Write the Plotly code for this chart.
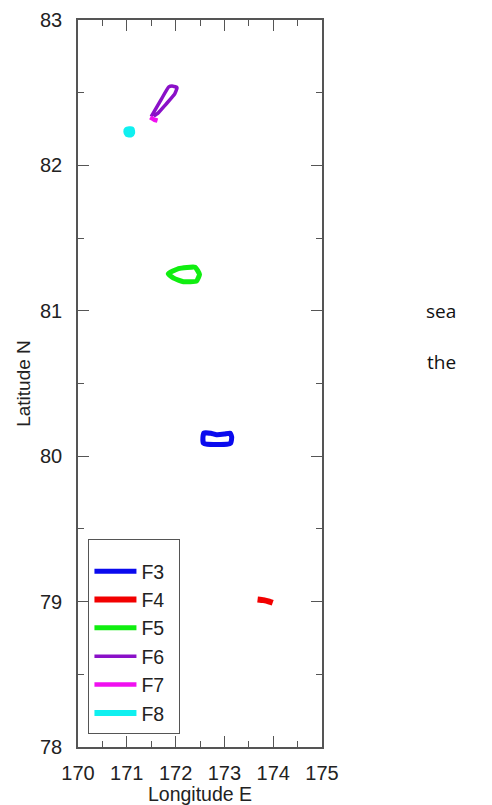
import plotly.graph_objects as go

# Survey track outlines (longitude E, latitude N)
f3_lon = [172.58, 172.72, 172.84, 173.00, 173.12, 173.15, 173.13, 173.05, 172.65, 172.57, 172.56, 172.58]
f3_lat = [80.160, 80.158, 80.148, 80.152, 80.158, 80.130, 80.090, 80.082, 80.082, 80.090, 80.130, 80.160]

f4_lon = [173.68, 173.80, 173.92, 173.99]
f4_lat = [79.015, 79.010, 79.000, 78.992]

f5_lon = [171.85, 172.06, 172.40, 172.49, 172.43, 172.16, 171.96, 171.85]
f5_lat = [81.255, 81.290, 81.300, 81.250, 81.205, 81.200, 81.225, 81.255]

f6_lon = [171.50, 171.70, 171.86, 171.95, 172.03, 171.98, 171.80, 171.64, 171.55]
f6_lat = [82.335, 82.450, 82.540, 82.545, 82.535, 82.490, 82.420, 82.360, 82.340]

f7_lon = [171.48, 171.56, 171.63]
f7_lat = [82.330, 82.315, 82.308]

f8_lon = [171.00, 171.10, 171.11, 171.08, 171.01, 170.99, 171.00]
f8_lat = [82.245, 82.248, 82.225, 82.212, 82.215, 82.232, 82.245]

tracks = [
    ("F3", f3_lon, f3_lat, "#0a0aee", 5),
    ("F4", f4_lon, f4_lat, "#f20000", 6),
    ("F5", f5_lon, f5_lat, "#10ee10", 5),
    ("F6", f6_lon, f6_lat, "#8a10c8", 3.5),
    ("F7", f7_lon, f7_lat, "#f010f0", 4.5),
    ("F8", f8_lon, f8_lat, "#10f0f0", 6),
]

x_ticks = [170, 171, 172, 173, 174, 175]
y_ticks = [78, 79, 80, 81, 82, 83]

fig = go.Figure()
for name, lon, lat, color, width in tracks:
    # trailing no-break/thin spaces give the legend box its right-hand padding
    fig.add_trace(go.Scatter(x=lon, y=lat, mode="lines", name=name + "\u00a0\u2009",
                             line=dict(color=color, width=width, shape="spline", smoothing=0.4)))

axis_common = dict(
    showgrid=False, zeroline=False, showline=True, linecolor="#555555", linewidth=1.5,
    mirror="allticks", ticks="inside", ticklen=11, tickwidth=1.3, tickcolor="#555555",
    tickfont=dict(family="Liberation Sans, Arial", size=20, color="#222222"),
    minor=dict(ticks="inside", ticklen=6, tickwidth=1.3, tickcolor="#555555", dtick=0.5),
)

fig.update_xaxes(range=[170, 175], tickvals=x_ticks, ticklabelstandoff=7,
                 title=dict(text="Longitude E", standoff=1,
                            font=dict(family="Liberation Sans, Arial", size=19.5, color="#222222")),
                 **axis_common)
fig.update_yaxes(range=[78, 83], tickvals=y_ticks, ticklabelstandoff=10,
                 title=dict(text="Latitude N", standoff=4,
                            font=dict(family="Liberation Sans, Arial", size=19, color="#222222")),
                 **axis_common)

fig.update_layout(
    width=492, height=805,
    margin=dict(l=78, r=170, t=20, b=58, autoexpand=False),
    plot_bgcolor="white", paper_bgcolor="white",
    showlegend=True,
    legend=dict(x=0.042, y=0.286, xanchor="left", yanchor="top",
                bordercolor="#555555", borderwidth=1.2, bgcolor="white",
                itemwidth=42,
                title=dict(text=" ", font=dict(size=9)),
                font=dict(family="Liberation Sans, Arial", size=19.5, color="#222222")),
    annotations=[
        dict(text="sea", x=441, y=311, xref="paper", yref="paper", showarrow=False,
             xanchor="center", yanchor="middle",
             font=dict(family="Open Sans", size=19, color="#111111")),
        dict(text="the", x=441, y=362, xref="paper", yref="paper", showarrow=False,
             xanchor="center", yanchor="middle",
             font=dict(family="Open Sans", size=19, color="#111111")),
    ],
)

# annotation positions given in pixels; convert to paper fractions
plot_w = 492 - 78 - 170
plot_h = 805 - 20 - 58
for ann in fig.layout.annotations:
    ann.x = (ann.x - 78) / plot_w
    ann.y = (805 - 58 - ann.y) / plot_h

fig.write_html("out.html")
